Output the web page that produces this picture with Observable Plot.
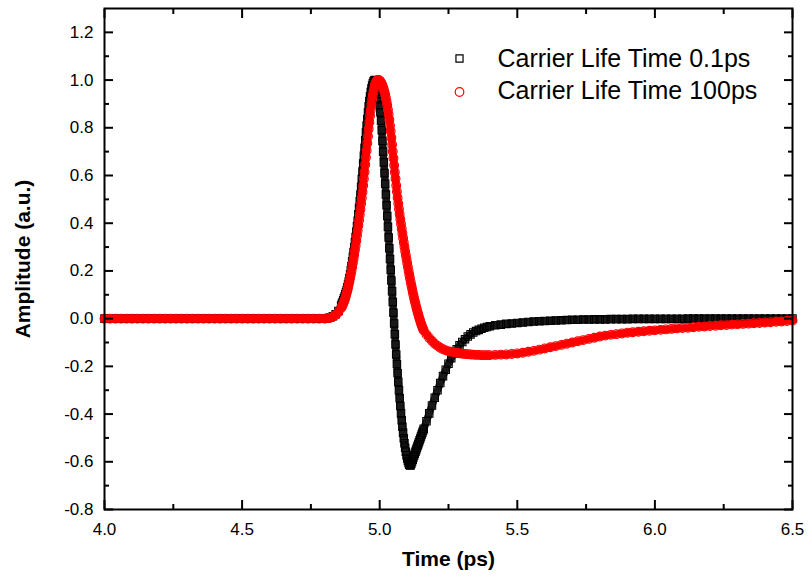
<!DOCTYPE html>
<html>
<head>
<meta charset="utf-8">
<script src="https://cdn.jsdelivr.net/npm/d3@7"></script>
<script src="https://cdn.jsdelivr.net/npm/@observablehq/plot@0.6"></script>
<style>
  html, body { margin: 0; padding: 0; background: #fff; }
  #chart { width: 808px; height: 579px; }
</style>
</head>
<body>
<div id="chart"></div>
<script>
// ---- sampling grid of the time axis (ps): start and step of each segment ----
const segStart = [4.00, 4.81, 4.8625, 5.17, 5.42];
const segStep  = [0.02, 0.01, 0.0025, 0.01, 0.02];

// ---- Carrier Life Time 0.1ps (black squares) ----
const black1 = [0,0,0,0,0,0,0,0,0,0, 0,0,0,0,0,0,0,0,0,0, 0,0,0,0,0,0,0,0,0,0, 0,0,0,0,0,0,0,0,0,0, 0];
const black2 = [0.002, 0.005, 0.01, 0.018, 0.032, 0.055];
const black3 = [
  0.062, 0.069, 0.077, 0.085, 0.093, 0.102, 0.111, 0.12, 0.131, 0.143,
  0.156, 0.17, 0.186, 0.203, 0.221, 0.24, 0.259, 0.279, 0.299, 0.32,
  0.342, 0.364, 0.387, 0.41, 0.437, 0.464, 0.492, 0.52, 0.552, 0.585,
  0.617, 0.65, 0.683, 0.716, 0.748, 0.78, 0.809, 0.837, 0.864, 0.89,
  0.912, 0.932, 0.95, 0.965, 0.977, 0.987, 0.994, 0.998, 1.0, 0.998,
  0.99, 0.978, 0.962, 0.942, 0.92, 0.895, 0.865, 0.83, 0.79, 0.745,
  0.70, 0.655, 0.61, 0.565, 0.52, 0.475, 0.43, 0.385, 0.34, 0.295,
  0.25, 0.205, 0.16, 0.115, 0.07, 0.025, -0.02, -0.065, -0.108, -0.15,
  -0.19, -0.228, -0.265, -0.3, -0.334, -0.366, -0.397, -0.426, -0.453, -0.478,
  -0.501, -0.522, -0.541, -0.558, -0.573, -0.586, -0.597, -0.606, -0.612, -0.615,
  -0.614, -0.608, -0.6, -0.591, -0.582, -0.574, -0.566, -0.558, -0.55, -0.542,
  -0.534, -0.526, -0.518, -0.51, -0.502, -0.494, -0.486, -0.478, -0.47, -0.462
];
const black4 = [
  -0.43, -0.397, -0.364, -0.332, -0.30, -0.27, -0.241, -0.214, -0.189, -0.166,
  -0.146, -0.128, -0.112, -0.098, -0.086, -0.075, -0.066, -0.058, -0.052, -0.047,
  -0.042, -0.038, -0.035, -0.032
];
const black5 = [
  -0.028, -0.025, -0.022, -0.02, -0.018, -0.016, -0.014, -0.012, -0.011, -0.01,
  -0.009, -0.008, -0.007, -0.006, -0.005, -0.005, -0.004, -0.004, -0.003, -0.003,
  -0.003, -0.002, -0.002, -0.002, -0.002,
  -0.001, -0.001, -0.001, -0.001, -0.001, -0.001, -0.001, -0.001, -0.001, -0.001,
  0,0,0,0,0,0,0,0,0,0, 0,0,0,0,0,0,0,0,0,0
];

// ---- Carrier Life Time 100ps (red circles) ----
const red1 = [0,0,0,0,0,0,0,0,0,0, 0,0,0,0,0,0,0,0,0,0, 0,0,0,0,0,0,0,0,0,0, 0,0,0,0,0,0,0,0,0,0, 0];
const red2 = [0.002, 0.004, 0.008, 0.015, 0.027, 0.045];
const red3 = [
  0.05, 0.056, 0.063, 0.07, 0.078, 0.087, 0.097, 0.107, 0.118, 0.13,
  0.143, 0.156, 0.17, 0.185, 0.2, 0.216, 0.233, 0.25, 0.268, 0.287,
  0.306, 0.326, 0.347, 0.368, 0.39, 0.412, 0.435, 0.458, 0.482, 0.506,
  0.531, 0.558, 0.586, 0.615, 0.645, 0.675, 0.705, 0.735, 0.765, 0.795,
  0.823, 0.85, 0.875, 0.898, 0.919, 0.937, 0.953, 0.967, 0.978, 0.987,
  0.993, 0.997, 1.0, 1.0, 0.999, 0.997, 0.994, 0.99, 0.984, 0.977,
  0.969, 0.96, 0.95, 0.938, 0.925, 0.91, 0.894, 0.876, 0.856, 0.834,
  0.81, 0.785, 0.758, 0.73, 0.701, 0.672, 0.643, 0.614, 0.586, 0.558,
  0.532, 0.507, 0.483, 0.46, 0.438, 0.417, 0.397, 0.377, 0.357, 0.338,
  0.319, 0.301, 0.283, 0.266, 0.249, 0.232, 0.216, 0.2, 0.184, 0.169,
  0.154, 0.14, 0.126, 0.112, 0.099, 0.086, 0.074, 0.062, 0.05, 0.039,
  0.028, 0.018, 0.008, -0.002, -0.011, -0.02, -0.028, -0.036, -0.043, -0.05
];
const red4 = [
  -0.066, -0.081, -0.094, -0.105, -0.114, -0.122, -0.128, -0.133, -0.137, -0.139,
  -0.141, -0.143, -0.145, -0.147, -0.148, -0.149, -0.15, -0.151, -0.152, -0.152,
  -0.153, -0.153, -0.153, -0.153
];
const red5 = [
  -0.152, -0.151, -0.15, -0.148, -0.146, -0.143, -0.139, -0.135, -0.13, -0.125,
  -0.12, -0.115, -0.11, -0.105, -0.1, -0.095, -0.09, -0.085, -0.08, -0.075,
  -0.071, -0.068, -0.065, -0.062, -0.059, -0.057, -0.055, -0.053, -0.051, -0.049,
  -0.047, -0.045, -0.043, -0.041, -0.039, -0.038, -0.036, -0.034, -0.033, -0.031,
  -0.03, -0.028, -0.027, -0.025, -0.024, -0.022, -0.021, -0.019, -0.018, -0.016,
  -0.015, -0.013, -0.012, -0.01, -0.008
];

// ---- axes / labels ----
const xMajor = [4.0, 4.5, 5.0, 5.5, 6.0, 6.5];
const xMinor = [4.25, 4.75, 5.25, 5.75, 6.25];
const yMajor = [-0.8, -0.6, -0.4, -0.2, 0.0, 0.2, 0.4, 0.6, 0.8, 1.0, 1.2];
const yMinor = [-0.7, -0.5, -0.3, -0.1, 0.1, 0.3, 0.5, 0.7, 0.9, 1.1];
const xDomain = [4.0, 6.5];
const yDomain = [-0.8, 1.3];
const seriesNames = ["Carrier Life Time 0.1ps", "Carrier Life Time 100ps"];
const xTitle = "Time (ps)";
const yTitle = "Amplitude (a.u.)";

function buildSeries(segments) {
  const rows = [];
  segments.forEach((vals, s) => {
    vals.forEach((v, i) => rows.push({t: +(segStart[s] + i * segStep[s]).toFixed(5), v}));
  });
  return rows;
}
const blackData = buildSeries([black1, black2, black3, black4, black5]);
const redData = buildSeries([red1, red2, red3, red4, red5]);

const fmt = d => d.toFixed(1);
const font = "'Liberation Sans', Arial, sans-serif";
const RED = "#ff0000";

const chart = Plot.plot({
  width: 808,
  height: 579,
  marginLeft: 104,
  marginRight: 16,
  marginTop: 8,
  marginBottom: 70,
  style: {fontFamily: font, fontSize: "17px", color: "black", background: "white", overflow: "visible"},
  x: {domain: xDomain},
  y: {domain: yDomain},
  marks: [
    // densely packed hollow markers form a continuous band
    Plot.line(blackData, {x: "t", y: "v", stroke: "black", strokeWidth: 7.5, strokeOpacity: 0.9, strokeLinejoin: "round"}),
    Plot.dot(blackData, {x: "t", y: "v", symbol: "square", r: 4.2, stroke: "black", fill: "none", strokeWidth: 1.1}),
    Plot.line(redData, {x: "t", y: "v", stroke: RED, strokeWidth: 7.5, strokeLinejoin: "round"}),
    Plot.dot(redData, {x: "t", y: "v", symbol: "circle", r: 4.4, stroke: RED, fill: "none", strokeWidth: 1.1}),
    Plot.frame({stroke: "black", strokeWidth: 2}),
    // inward major/minor ticks on all four sides
    Plot.axisX(xMajor, {anchor: "bottom", tickSize: -9, strokeWidth: 2, fill: "none", label: null}),
    Plot.axisX(xMinor, {anchor: "bottom", tickSize: -5, strokeWidth: 2, fill: "none", label: null}),
    Plot.axisX(xMajor, {anchor: "top", tickSize: -9, strokeWidth: 2, fill: "none", label: null}),
    Plot.axisX(xMinor, {anchor: "top", tickSize: -5, strokeWidth: 2, fill: "none", label: null}),
    Plot.axisY(yMajor, {anchor: "left", tickSize: -9, strokeWidth: 2, fill: "none", label: null}),
    Plot.axisY(yMinor, {anchor: "left", tickSize: -5, strokeWidth: 2, fill: "none", label: null}),
    Plot.axisY(yMajor, {anchor: "right", tickSize: -9, strokeWidth: 2, fill: "none", label: null}),
    Plot.axisY(yMinor, {anchor: "right", tickSize: -5, strokeWidth: 2, fill: "none", label: null}),
    // tick labels
    Plot.axisX(xMajor, {anchor: "bottom", tickSize: 0, tickPadding: 13, tickFormat: fmt, fontSize: 17, label: null}),
    Plot.axisY(yMajor, {anchor: "left", tickSize: 0, tickPadding: 11, tickFormat: fmt, fontSize: 17, label: null}),
    // axis titles
    Plot.text([xTitle], {text: d => d, frameAnchor: "bottom", dy: 50, textAnchor: "middle", lineAnchor: "middle", fontWeight: "bold", fontSize: 21}),
    Plot.text([yTitle], {text: d => d, frameAnchor: "left", dx: -81, rotate: -90, textAnchor: "middle", lineAnchor: "middle", fontWeight: "bold", fontSize: 21}),
    // legend
    Plot.dot([seriesNames[0]], {frameAnchor: "top-left", dx: 355, dy: 50, symbol: "square", r: 4, stroke: "black", fill: "none", strokeWidth: 1.2}),
    Plot.dot([seriesNames[1]], {frameAnchor: "top-left", dx: 355, dy: 83.5, symbol: "circle", r: 4.3, stroke: RED, fill: "none", strokeWidth: 1.2}),
    Plot.text([seriesNames[0]], {text: d => d, frameAnchor: "top-left", dx: 393, dy: 50, textAnchor: "start", lineAnchor: "middle", fontSize: 25}),
    Plot.text([seriesNames[1]], {text: d => d, frameAnchor: "top-left", dx: 393, dy: 82, textAnchor: "start", lineAnchor: "middle", fontSize: 25})
  ]
});
document.getElementById("chart").appendChild(chart);
</script>
</body>
</html>
